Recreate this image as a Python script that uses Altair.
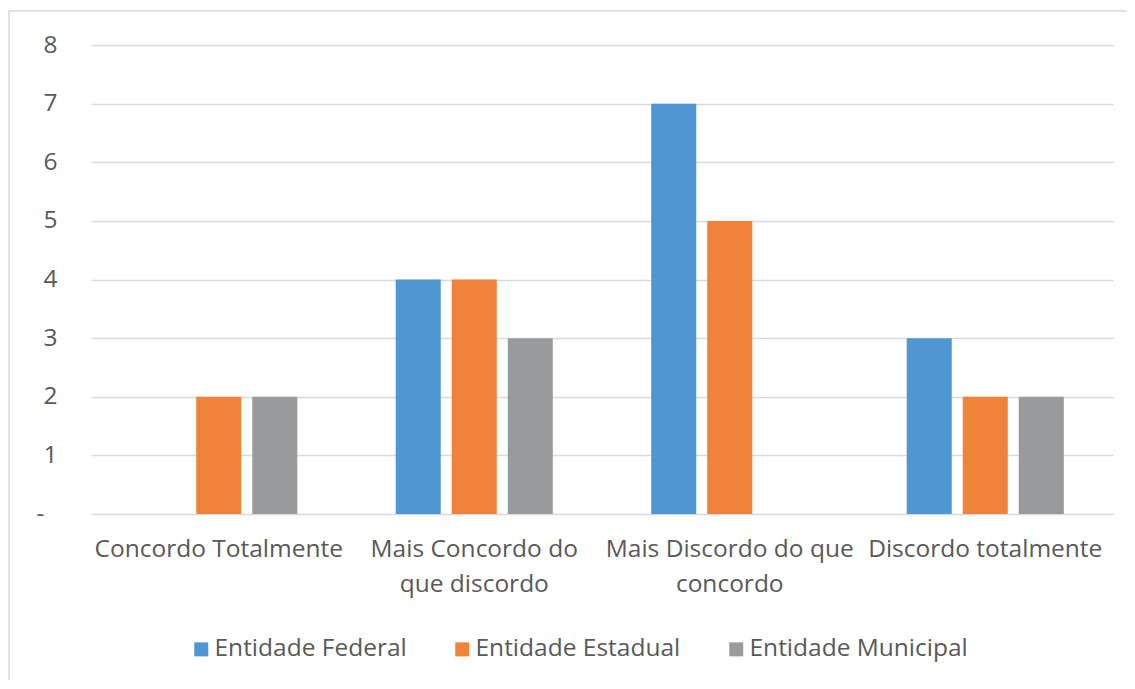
import altair as alt
import pandas as pd

categories = ["Concordo Totalmente", "Mais Concordo do que discordo",
              "Mais Discordo do que concordo", "Discordo totalmente"]
label_lines = [["Concordo Totalmente"], ["Mais Concordo do", "que discordo"],
               ["Mais Discordo do que", "concordo"], ["Discordo totalmente"]]
series = ["Entidade Federal", "Entidade Estadual", "Entidade Municipal"]
federal = [0, 4, 7, 3]
estadual = [2, 4, 5, 2]
municipal = [2, 3, 0, 2]
colors = ["#4F97D2", "#F08239", "#989A9B"]
y_ticks = [0, 1, 2, 3, 4, 5, 6, 7, 8]

rows = []
for s, vals in zip(series, [federal, estadual, municipal]):
    for c, v in zip(categories, vals):
        rows.append({"categoria": c, "serie": s, "valor": v})
df = pd.DataFrame(rows)

FONT = "Open Sans"
FS = 24.5
TXT = "#595959"
GRID = "#D9D9D9"

# label expression for multi-line category labels
parts = []
for c, lines in zip(categories, label_lines):
    arr = "[" + ",".join("'" + l + "'" for l in lines) + "]"
    parts.append(f"datum.label == '{c}' ? {arr} : ")
label_expr = "".join(parts) + "datum.label"

W, H = 1022, 469

bars = alt.Chart(df).mark_bar().encode(
    x=alt.X("categoria:N", sort=categories,
            scale=alt.Scale(paddingInner=0, paddingOuter=0),
            axis=alt.Axis(title=None, labelAngle=0, domain=False, ticks=False,
                          labelFont=FONT, labelFontSize=FS, labelColor=TXT,
                          labelPadding=23, labelLimit=0, labelLineHeight=35,
                          labelBaseline="top", labelExpr=label_expr)),
    xOffset=alt.XOffset("serie:N", sort=series,
                        scale=alt.Scale(paddingInner=0.196, paddingOuter=0.878)),
    y=alt.Y("valor:Q", scale=alt.Scale(domain=[0, 8], nice=False),
            axis=alt.Axis(title=None, values=y_ticks, domain=False, ticks=False,
                          grid=True, gridColor=GRID, gridWidth=1.5,
                          labelFont=FONT, labelFontSize=FS, labelColor=TXT,
                          labelPadding={"condition": {"test": "datum.value == 0", "value": 47},
                                        "value": 34},
                          labelExpr="datum.value == 0 ? '-' : datum.label")),
    color=alt.Color("serie:N", sort=series,
                    scale=alt.Scale(domain=series, range=colors),
                    legend=alt.Legend(title=None, orient="none", direction="horizontal",
                                      legendX=98, legendY=592, padding=0,
                                      symbolType="square", symbolSize=196,
                                      symbolStrokeWidth=0, symbolOpacity=1,
                                      labelFont=FONT, labelFontSize=FS, labelColor=TXT,
                                      labelOffset=1, columnPadding=43, labelLimit=500)),
)

frame = alt.Chart(pd.DataFrame({"a": [0]})).mark_rect(
    fill=None, stroke=GRID, strokeWidth=1.5
).encode(
    x=alt.value(-82), x2=alt.value(W + 60),
    y=alt.value(-34), y2=alt.value(H + 250),
)

chart = alt.layer(frame, bars).properties(
    width=W, height=H,
    autosize=alt.AutoSizeParams(type="none"),
    padding={"left": 83, "top": 37, "right": 14, "bottom": 166},
).configure(background="white").configure_view(stroke=None)

chart.save("out.html", embed_options={"renderer": "svg", "actions": False})
